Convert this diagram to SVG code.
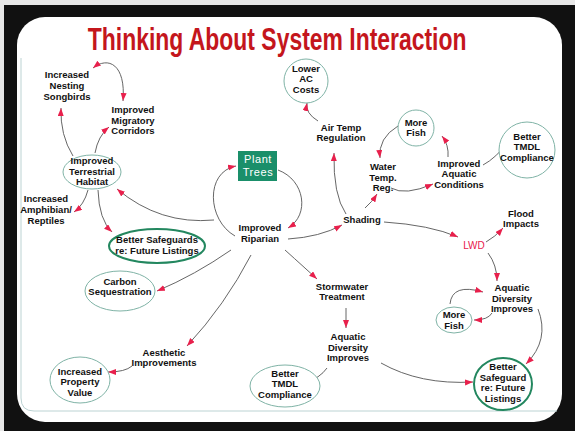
<svg xmlns="http://www.w3.org/2000/svg" width="575" height="431" viewBox="0 0 575 431">
  <style>
    .t { font-family: "Liberation Sans", Arial, sans-serif; font-weight: bold; font-size: 9.5px; fill: #111; text-anchor: middle; }
    .title { font-family: "Liberation Sans", Arial, sans-serif; font-weight: bold; font-size: 31px; fill: #c4161c; text-anchor: middle; }
    .lwd { font-family: "Liberation Sans", Arial, sans-serif; font-size: 10px; fill: #e8204c; text-anchor: middle; }
    .pt { font-family: "Liberation Sans", Arial, sans-serif; font-size: 11px; fill: #fff; text-anchor: middle; letter-spacing: 0.6px; }
    .thin { fill: #fff; stroke: #7fb3a6; stroke-width: 1; }
    .green { fill: #fff; stroke: #23875f; stroke-width: 2; }
    .c path { fill: none; stroke: #555; stroke-width: 0.9; marker-end: url(#ah); }
  </style>
  <defs>
    <marker id="ah" markerUnits="userSpaceOnUse" markerWidth="9" markerHeight="7" refX="8" refY="3" orient="auto-start-reverse">
      <path d="M0,0 L8,3 L0,6 z" fill="#e8204c"/>
    </marker>
  </defs>

  <!-- frame -->
  <rect x="0" y="0" width="575" height="431" fill="#e8e8e8"/>
  <rect x="4" y="5" width="571" height="426" fill="#111"/>
  <rect x="17" y="17" width="545" height="405" rx="28" fill="#fff"/>
  <path d="M21,58 V398 Q21,411 34,411 H557" fill="none" stroke="#bcd3d3" stroke-width="1"/>

  <!-- heading, set in a narrowed bold face -->
  <text class="title" transform="scale(0.74,1)" x="374.5" y="50">Thinking About System Interaction</text>

  <!-- connectors -->
  <g id="connectors" class="c">
    <path d="M93,68 C108,56 126,64 123,101" marker-start="url(#ah)"/>
    <path d="M73,156 Q60,135 61,108"/>
    <path d="M95,153 Q98,136 109,127"/>
    <path d="M88,190 Q84,205 74,212"/>
    <path d="M98,190 Q99,220 112,232"/>
    <path d="M214,220 Q160,225 117,189"/>
    <path d="M235,236 C207,220 205,172 236,166"/>
    <path d="M278,170 C305,180 310,215 288,228"/>
    <path d="M288,239 Q320,237 342,225"/>
    <path d="M346,214 Q333,195 334,153"/>
    <path d="M318,121 Q305,113 307,103"/>
    <path d="M365,208 Q372,202 377,194"/>
    <path d="M391,188 Q405,196 433,184"/>
    <path d="M448,157 Q449,145 442,136"/>
    <path d="M398,126 Q378,138 380,158"/>
    <path d="M483,165 Q496,158 508,142"/>
    <path d="M384,222 Q430,225 458,237"/>
    <path d="M486,242 Q495,237 503,228"/>
    <path d="M488,253 Q497,265 497,281"/>
    <path d="M492,313 Q488,320 474,320"/>
    <path d="M450,304 Q452,283 483,292"/>
    <path d="M538,309 Q550,340 526,364"/>
    <path d="M285,250 Q305,268 317,279"/>
    <path d="M346,308 L346,328"/>
    <path d="M327,368 Q320,378 305,383"/>
    <path d="M381,363 Q420,385 473,382"/>
    <path d="M231,250 Q195,275 157,291"/>
    <path d="M251,255 Q225,305 187,346"/>
    <path d="M132,366 Q125,372 108,372"/>
  </g>

  <!-- nodes -->
  <g id="songbirds"><text class="t" x="67" y="78">Increased</text><text class="t" x="67" y="89">Nesting</text><text class="t" x="67" y="100">Songbirds</text></g>
  <g id="migratory"><text class="t" x="133" y="113">Improved</text><text class="t" x="133" y="124">Migratory</text><text class="t" x="133" y="134">Corridors</text></g>
  <g id="terrestrial"><ellipse class="thin" cx="92" cy="172" rx="29" ry="17" stroke="#3f9a84"/><text class="t" x="92" y="164">Improved</text><text class="t" x="92" y="175">Terrestrial</text><text class="t" x="92" y="185">Habitat</text></g>
  <g id="amphibian"><text class="t" x="46" y="202">Increased</text><text class="t" x="46" y="213">Amphibian/</text><text class="t" x="46" y="224">Reptiles</text></g>
  <g id="safeguards-left"><ellipse class="green" cx="157" cy="246" rx="48" ry="17"/><text class="t" x="157" y="243">Better Safeguards</text><text class="t" x="157" y="254">re: Future Listings</text></g>
  <g id="plant-trees"><rect x="238" y="151" width="39" height="30" fill="#1a8f6a"/><text class="pt" x="258" y="163">Plant</text><text class="pt" x="258" y="176">Trees</text></g>
  <g id="riparian"><text class="t" x="260" y="231">Improved</text><text class="t" x="260" y="242">Riparian</text></g>
  <g id="lower-ac"><circle class="thin" cx="306" cy="81" r="22" stroke="#9aaaa8"/><text class="t" x="306" y="72">Lower</text><text class="t" x="306" y="82">AC</text><text class="t" x="306" y="93">Costs</text></g>
  <g id="air-temp"><text class="t" x="341" y="131">Air Temp</text><text class="t" x="341" y="141">Regulation</text></g>
  <g id="water-temp"><text class="t" x="383" y="170">Water</text><text class="t" x="383" y="181">Temp.</text><text class="t" x="383" y="191">Reg.</text></g>
  <g id="shading"><text class="t" x="362" y="223">Shading</text></g>
  <g id="more-fish-top"><circle class="thin" cx="416" cy="128" r="18"/><text class="t" x="416" y="126">More</text><text class="t" x="416" y="136">Fish</text></g>
  <g id="aquatic-conditions"><text class="t" x="459" y="167">Improved</text><text class="t" x="459" y="177">Aquatic</text><text class="t" x="459" y="188">Conditions</text></g>
  <g id="tmdl-top"><circle class="thin" cx="527" cy="150" r="28"/><text class="t" x="527" y="140">Better</text><text class="t" x="527" y="150">TMDL</text><text class="t" x="527" y="161">Compliance</text></g>
  <g id="flood"><text class="t" x="521" y="217">Flood</text><text class="t" x="521" y="227">Impacts</text></g>
  <g id="lwd"><text class="lwd" x="474" y="249">LWD</text></g>
  <g id="aquatic-diversity-right"><text class="t" x="512" y="291">Aquatic</text><text class="t" x="512" y="302">Diversity</text><text class="t" x="512" y="312">Improves</text></g>
  <g id="more-fish-bottom"><ellipse class="thin" cx="454" cy="320" rx="18" ry="13"/><text class="t" x="454" y="318">More</text><text class="t" x="454" y="329">Fish</text></g>
  <g id="safeguard-right"><ellipse class="green" cx="503" cy="384" rx="29" ry="26"/><text class="t" x="503" y="370">Better</text><text class="t" x="503" y="381">Safeguard</text><text class="t" x="503" y="391">re: Future</text><text class="t" x="503" y="402">Listings</text></g>
  <g id="stormwater"><text class="t" x="342" y="290">Stormwater</text><text class="t" x="342" y="300">Treatment</text></g>
  <g id="aquatic-diversity-center"><text class="t" x="348" y="340">Aquatic</text><text class="t" x="348" y="351">Diversity</text><text class="t" x="348" y="361">Improves</text></g>
  <g id="tmdl-bottom"><ellipse class="thin" cx="285" cy="386" rx="35" ry="21"/><text class="t" x="285" y="377">Better</text><text class="t" x="285" y="387">TMDL</text><text class="t" x="285" y="398">Compliance</text></g>
  <g id="carbon"><ellipse class="thin" cx="120" cy="291" rx="35" ry="20"/><text class="t" x="120" y="285">Carbon</text><text class="t" x="120" y="295">Sequestration</text></g>
  <g id="aesthetic"><text class="t" x="164" y="356">Aesthetic</text><text class="t" x="164" y="366">Improvements</text></g>
  <g id="property"><ellipse class="thin" cx="80" cy="380" rx="30" ry="23"/><text class="t" x="80" y="375">Increased</text><text class="t" x="80" y="385">Property</text><text class="t" x="80" y="396">Value</text></g>
</svg>
